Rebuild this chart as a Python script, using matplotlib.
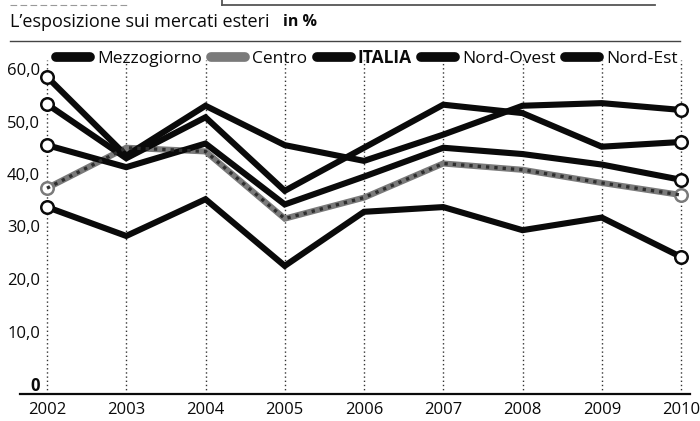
import matplotlib
matplotlib.use('Agg')
import matplotlib.pyplot as plt
from matplotlib.lines import Line2D

# ---- data -----------------------------------------------------------
years = [2002, 2003, 2004, 2005, 2006, 2007, 2008, 2009, 2010]
mezzogiorno = [33.7, 28.2, 35.2, 22.5, 32.8, 33.7, 29.3, 31.7, 24.2]
centro = [37.3, 45.0, 44.3, 31.5, 35.5, 42.0, 40.8, 38.3, 36.0]
italia = [45.5, 41.3, 45.8, 34.2, 39.5, 45.0, 43.8, 41.8, 38.9]
nord_ovest = [53.3, 43.0, 50.8, 36.8, 45.0, 53.2, 51.6, 45.2, 46.1]
nord_est = [58.5, 43.5, 53.0, 45.5, 42.5, 47.5, 53.0, 53.5, 52.2]
series_names = ['Mezzogiorno', 'Centro', 'ITALIA', 'Nord-Ovest', 'Nord-Est']
y_ticks = [0, 10, 20, 30, 40, 50, 60]
y_tick_labels = ['0', '10,0', '20,0', '30,0', '40,0', '50,0', '60,0']
x_tick_labels = [str(y) for y in years]
title = "L\u2019esposizione sui mercati esteri"
unit = "in %"

plt.rcParams['font.family'] = ['Open Sans', 'DejaVu Sans']

W, H = 700, 421
fig = plt.figure(figsize=(W / 100, H / 100), dpi=100)
fig.patch.set_facecolor('white')

# axes geometry (pixels)
ax_l, ax_r, ax_t, ax_b = 20, 690, 60, 394
ax = fig.add_axes([ax_l / W, (H - ax_b) / H, (ax_r - ax_l) / W, (ax_b - ax_t) / H])
px_per_year = (681 - 47) / 8
px_per_unit = 5.25
ax.set_xlim(2002 - (47 - ax_l) / px_per_year, 2010 + (ax_r - 681) / px_per_year)
ax.set_ylim(-(ax_b - 384) / px_per_unit, (384 - ax_t) / px_per_unit)

# vertical dotted grid
ax.set_xticks(years, x_tick_labels)
ax.grid(axis='x', color='#333333', linestyle=(0, (1, 2)), linewidth=1.0, zorder=1)
ax.grid(axis='y', visible=False)

black = '#0a0a0a'
grey = '#7a7a7a'
series = [mezzogiorno, centro, italia, nord_ovest, nord_est]
styles = [black, grey, black, black, black]
last = len(years) - 1
for vals, col in zip(series, styles):
    ax.plot(years, vals, color=col, linewidth=4.4, solid_joinstyle='miter',
            marker='o', markevery=[0, last], markersize=9,
            markerfacecolor='white', markeredgecolor=col, markeredgewidth=1.8,
            zorder=3)
    if col == grey:
        ax.plot(years, vals, color='#2e2e2e', linewidth=2.4,
                linestyle=(0, (1, 1.5)), zorder=3.1)

for side in ['left', 'right', 'top']:
    ax.spines[side].set_visible(False)
ax.spines['bottom'].set_linewidth(1.6)
ax.spines['bottom'].set_color(black)

ax.set_yticks(y_ticks, y_tick_labels)
ax.tick_params(axis='y', length=0, pad=-14.4, labelsize=12, labelcolor=black)
ax.tick_params(axis='x', length=0, pad=6, labelsize=12, labelcolor=black)
ax.get_yticklabels()[0].set_fontweight('bold')

# legend
handles = [Line2D([], [], color=c, linewidth=7, solid_capstyle='round') for c in styles]
leg = fig.legend(handles, series_names, loc='center',
                 bbox_to_anchor=(367 / W, 1 - 58 / H), ncol=5, frameon=False,
                 handlelength=1.95, handletextpad=0.4, columnspacing=0.55,
                 fontsize=12.5, borderaxespad=0, borderpad=0)
for t in leg.get_texts():
    t.set_color(black)
leg.get_texts()[2].set_fontweight('bold')

# title
fig.text(10 / W, 1 - 22 / H, title, fontsize=13, va='center', ha='left', color=black)
fig.text(283 / W, 1 - 22 / H, unit, fontsize=11.5, va='center', ha='left',
         fontweight='bold', color=black)

# rules
fig.add_artist(Line2D([10 / W, 680 / W], [1 - 41 / H, 1 - 41 / H], color='#444444', linewidth=1.0))
fig.add_artist(Line2D([222 / W, 655 / W], [1 - 5 / H, 1 - 5 / H], color='#555555', linewidth=1.3))
fig.add_artist(Line2D([222 / W, 222 / W], [1 - 5 / H, 1.0], color='#555555', linewidth=1.3))
fig.add_artist(Line2D([10 / W, 130 / W], [1 - 5 / H, 1 - 5 / H], color='#999999', linewidth=0.8,
                      linestyle=(0, (6, 3))))

fig.savefig('out.png', dpi=100)
